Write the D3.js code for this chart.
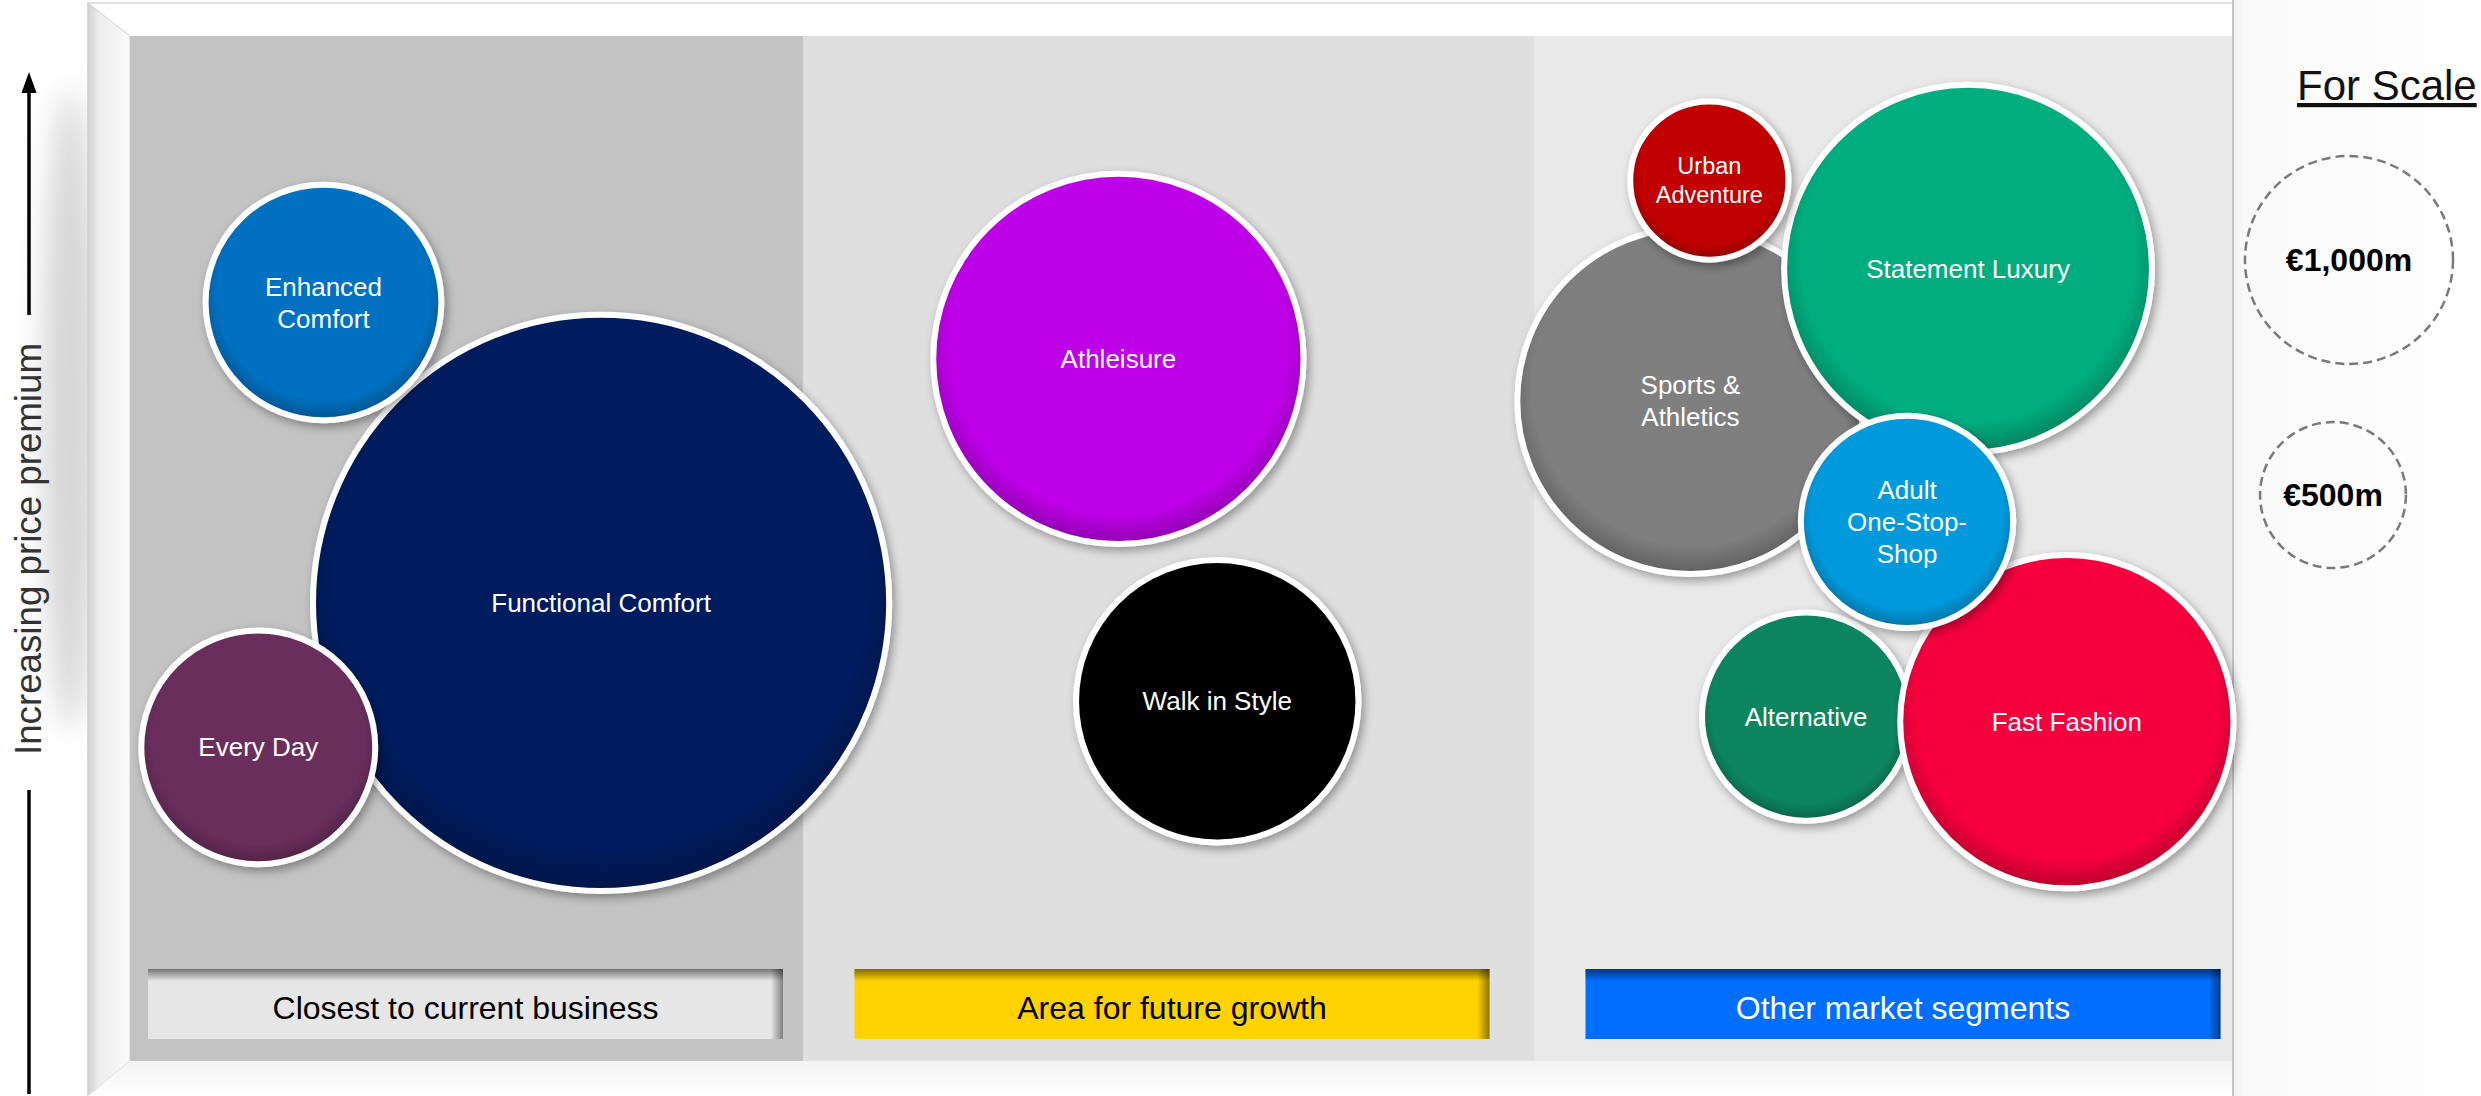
<!DOCTYPE html>
<html>
<head>
<meta charset="utf-8">
<script src="https://cdn.jsdelivr.net/npm/d3@7"></script>
<style>
  html, body { margin: 0; padding: 0; background: #ffffff; overflow: hidden; }
  svg { display: block; }
</style>
</head>
<body>
<div id="chart"></div>
<script>
// ---- data ----
const segments = ['Functional Comfort', 'Enhanced Comfort', 'Every Day', 'Athleisure', 'Walk in Style',
  'Sports & Athletics', 'Statement Luxury', 'Urban Adventure', 'Alternative', 'Fast Fashion', 'Adult One-Stop-Shop'];
const segmentLabels = [['Functional Comfort'], ['Enhanced', 'Comfort'], ['Every Day'], ['Athleisure'], ['Walk in Style'],
  ['Sports &', 'Athletics'], ['Statement Luxury'], ['Urban', 'Adventure'], ['Alternative'], ['Fast Fashion'], ['Adult', 'One-Stop-', 'Shop']];
// market size, €m (bubble area)
const marketSize = [7540, 1300, 1280, 3150, 1850, 2760, 3110, 600, 1020, 2560, 1060];
// horizontal placement (0-100 across the three zones)
const positionIndex = [22.4, 9.2, 6.1, 47.0, 51.7, 74.2, 87.4, 75.1, 79.7, 92.1, 84.5];
// price premium (0-100, bottom to top)
const premiumIndex = [44.7, 74.0, 30.6, 68.5, 35.1, 64.4, 77.3, 85.9, 33.6, 33.1, 52.6];

const zoneNames = ['Closest to current business', 'Area for future growth', 'Other market segments'];
const zoneBreaks = [0, 32, 66.8, 100];

const scaleValues = [1000, 500];
const scaleLabels = ['€1,000m', '€500m'];
const axisTitle = 'Increasing price premium';
const legendTitle = 'For Scale';

// ---- styles ----
const segmentColors = ['#001e5e', '#0070c0', '#6b2d5c', '#be00e8', '#000000',
  '#7f7f7f', '#06ad7e', '#c00000', '#07865f', '#f5003e', '#0099dc'];
const zoneColors = ['#c3c3c3', '#dfdfdf', '#e9e9e9'];
const boxColors = ['#e6e6e6', '#ffd200', '#006eff'];
const boxTextColors = ['#000000', '#000000', '#ffffff'];

const width = 2481, height = 1096;
const plot = { left: 130, right: 2233, top: 36, bottom: 1061 };
const fontFamily = '"Liberation Sans", Arial, Helvetica, sans-serif';

const svg = d3.select('#chart')
  .append('svg')
  .attr('width', width)
  .attr('height', height)
  .style('font-family', fontFamily);

const x = d3.scaleLinear().domain([0, 100]).range([plot.left, plot.right]);
const y = d3.scaleLinear().domain([0, 100]).range([plot.bottom, plot.top]);
const r = d3.scaleSqrt().domain([0, 1000]).range([0, 106]);

// ---- defs ----
const defs = svg.append('defs');

const lg = (id, x1, y1, x2, y2, stops) => {
  const g = defs.append('linearGradient').attr('id', id)
    .attr('x1', x1).attr('y1', y1).attr('x2', x2).attr('y2', y2);
  stops.forEach(([o, c, op]) => g.append('stop').attr('offset', o).attr('stop-color', c).attr('stop-opacity', op));
};
lg('leftWall', 0, 0, 1, 0, [[0, '#d2d2d2', 1], [0.25, '#ececec', 1], [1, '#fbfbfb', 1]]);
lg('floor', 0, 0, 0, 1, [[0, '#f3f3f3', 1], [1, '#ffffff', 1]]);
lg('outside', 0, 0, 1, 0, [[0, '#efefef', 1], [0.04, '#f9f9f9', 1], [1, '#ffffff', 1]]);
lg('insetTop', 0, 0, 0, 1, [[0, '#000', 0.5], [1, '#000', 0]]);
lg('insetRight', 0, 0, 1, 0, [[0, '#000', 0], [1, '#000', 0.45]]);

const rim = defs.append('radialGradient').attr('id', 'rim').attr('cx', 0.5).attr('cy', 0.46).attr('r', 0.54);
rim.append('stop').attr('offset', 0.86).attr('stop-color', '#000').attr('stop-opacity', 0);
rim.append('stop').attr('offset', 1).attr('stop-color', '#000').attr('stop-opacity', 0.22);

defs.append('filter').attr('id', 'bubbleShadow')
  .attr('x', '-20%').attr('y', '-20%').attr('width', '140%').attr('height', '140%')
  .append('feDropShadow')
  .attr('dx', 3).attr('dy', 4).attr('stdDeviation', 5)
  .attr('flood-color', '#000').attr('flood-opacity', 0.35);

defs.append('filter').attr('id', 'blur')
  .attr('x', '-50%').attr('y', '-50%').attr('width', '200%').attr('height', '200%')
  .append('feGaussianBlur').attr('stdDeviation', 14);

// ---- frame (3d box look) ----
svg.append('rect')
  .attr('x', plot.right).attr('y', 0)
  .attr('width', width - plot.right).attr('height', height)
  .attr('fill', 'url(#outside)');

svg.append('ellipse')
  .attr('cx', 70).attr('cy', 410).attr('rx', 28).attr('ry', 320)
  .attr('fill', '#b5b5b5').attr('opacity', 0.55)
  .attr('filter', 'url(#blur)');

svg.append('rect')
  .attr('x', 88).attr('y', 3)
  .attr('width', plot.right - 88).attr('height', height - 3)
  .attr('fill', '#ffffff')
  .attr('stroke', '#d6d6d6').attr('stroke-width', 1.5);

svg.append('polygon')
  .attr('points', [[88, 3], [plot.left, plot.top], [plot.left, plot.bottom], [88, height]].join(' '))
  .attr('fill', 'url(#leftWall)')
  .attr('stroke', '#d0d0d0').attr('stroke-width', 1);

svg.append('polygon')
  .attr('points', [[plot.left, plot.bottom], [plot.right, plot.bottom], [plot.right, height], [88, height]].join(' '))
  .attr('fill', 'url(#floor)');

// zone panels
svg.append('g')
  .selectAll('rect')
  .data(zoneNames)
  .join('rect')
  .attr('x', (d, i) => x(zoneBreaks[i]))
  .attr('y', plot.top)
  .attr('width', (d, i) => x(zoneBreaks[i + 1]) - x(zoneBreaks[i]))
  .attr('height', plot.bottom - plot.top)
  .attr('fill', (d, i) => zoneColors[i]);

svg.append('line')
  .attr('x1', plot.right).attr('x2', plot.right)
  .attr('y1', 0).attr('y2', height)
  .attr('stroke', '#c4c4c4').attr('stroke-width', 2);

// zone label boxes
const boxCenters = [465.5, 1172, 1903];
const boxW = 635, boxH = 70, boxY = 969;
const boxes = svg.append('g')
  .selectAll('g')
  .data(zoneNames)
  .join('g')
  .attr('transform', (d, i) => `translate(${boxCenters[i] - boxW / 2},${boxY})`);

boxes.append('rect').attr('width', boxW).attr('height', boxH).attr('fill', (d, i) => boxColors[i]);
boxes.append('rect').attr('width', boxW).attr('height', 12).attr('fill', 'url(#insetTop)');
boxes.append('rect').attr('x', boxW - 12).attr('width', 12).attr('height', boxH).attr('fill', 'url(#insetRight)');
boxes.append('text')
  .attr('x', boxW / 2)
  .attr('y', 50)
  .attr('text-anchor', 'middle')
  .style('font-size', '32px')
  .attr('fill', (d, i) => boxTextColors[i])
  .text(d => d);

// ---- bubbles ----
const bubbles = segments.map((name, i) => ({
  name,
  lines: segmentLabels[i],
  value: marketSize[i],
  px: positionIndex[i],
  py: premiumIndex[i],
  color: segmentColors[i]
}));
// stacking order seen in the picture
const drawOrder = ['Functional Comfort', 'Enhanced Comfort', 'Every Day', 'Athleisure', 'Walk in Style',
  'Sports & Athletics', 'Statement Luxury', 'Urban Adventure', 'Alternative', 'Fast Fashion', 'Adult One-Stop-Shop'];
bubbles.sort((a, b) => drawOrder.indexOf(a.name) - drawOrder.indexOf(b.name));

const labelSize = d => (r(d.value) < 90 ? 23.5 : 26);

const bubble = svg.append('g')
  .selectAll('g')
  .data(bubbles)
  .join('g')
  .attr('transform', d => `translate(${x(d.px)},${y(d.py)})`);

bubble.append('circle')
  .attr('r', d => r(d.value) - 3)
  .attr('fill', d => d.color)
  .attr('stroke', '#ffffff')
  .attr('stroke-width', 6)
  .attr('filter', 'url(#bubbleShadow)');

bubble.append('circle')
  .attr('r', d => r(d.value) - 6)
  .attr('fill', 'url(#rim)');

bubble.append('text')
  .attr('text-anchor', 'middle')
  .attr('fill', '#ffffff')
  .style('font-size', d => labelSize(d) + 'px')
  .selectAll('tspan')
  .data(d => d.lines.map((t, j) => ({ t, j, n: d.lines.length, fs: labelSize(d) })))
  .join('tspan')
  .attr('x', 0)
  .attr('y', t => (t.j - (t.n - 1) / 2) * t.fs * 1.23 + t.fs * 0.35)
  .text(t => t.t);

// ---- vertical axis: arrow + title ----
const axis = svg.append('g').attr('fill', '#000').attr('stroke', '#000');
axis.append('line').attr('x1', 29).attr('x2', 29).attr('y1', 1094).attr('y2', 790).attr('stroke-width', 3.5);
axis.append('line').attr('x1', 29).attr('x2', 29).attr('y1', 315).attr('y2', 90).attr('stroke-width', 3.5);
axis.append('polygon').attr('points', '21.5,93 36.5,93 29,72').attr('stroke', 'none');

svg.append('text')
  .attr('transform', 'translate(40.5,549) rotate(-90)')
  .attr('text-anchor', 'middle')
  .attr('fill', '#333333')
  .style('font-size', '36.5px')
  .attr('textLength', 412)
  .attr('lengthAdjust', 'spacingAndGlyphs')
  .text(axisTitle);

// ---- size legend ----
svg.append('text')
  .attr('x', 2297)
  .attr('y', 100)
  .attr('fill', '#111')
  .style('font-size', '42px')
  .style('text-decoration', 'underline')
  .text(legendTitle);

const legendCx = [2349, 2333];
const legendCy = [260, 495];
const legend = svg.append('g')
  .selectAll('g')
  .data(scaleValues)
  .join('g')
  .attr('transform', (d, i) => `translate(${legendCx[i]},${legendCy[i]})`);

legend.append('circle')
  .attr('r', d => r(d) - 2)
  .attr('fill', 'none')
  .attr('stroke', '#7a7a7a')
  .attr('stroke-width', 2.5)
  .attr('stroke-dasharray', '9 5');

legend.append('text')
  .attr('text-anchor', 'middle')
  .attr('y', 11)
  .style('font-size', '32px')
  .style('font-weight', 'bold')
  .attr('fill', '#000')
  .text((d, i) => scaleLabels[i]);
</script>
</body>
</html>
